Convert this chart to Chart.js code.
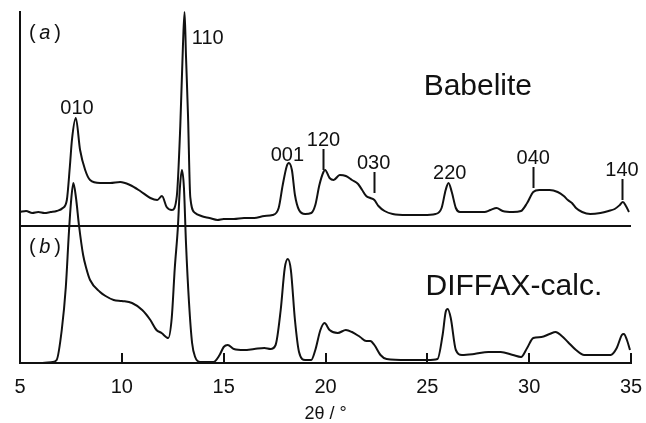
<!DOCTYPE html>
<html>
<head>
<meta charset="utf-8">
<script src="https://cdn.jsdelivr.net/npm/chart.js@4.4.1/dist/chart.umd.min.js"></script>
<style>
  html, body { margin: 0; padding: 0; background: #fff; }
  #wrap { width: 646px; height: 423px; }
</style>
</head>
<body>
<div id="wrap"><canvas id="xrd"></canvas></div>
<script>
// (a) Babelite, measured pattern: 2theta and intensity (a.u.)
const thetaA = [5.0, 5.3, 5.6, 5.9, 6.2, 6.5, 6.8, 7.1, 7.3, 7.45, 7.55, 7.74, 7.95, 8.2, 8.44, 8.93, 9.43, 9.92, 10.4, 10.9,
  11.4, 11.74, 11.97, 12.2, 12.46, 12.7, 12.87, 13.0, 13.08, 13.15, 13.25, 13.36, 13.6, 13.9, 14.3, 14.7, 15.0, 15.5, 16.0, 16.5,
  17.0, 17.4, 17.7, 17.9, 18.1, 18.2, 18.35, 18.5, 18.7, 19.0, 19.3, 19.5, 19.7, 19.9, 19.98, 20.2, 20.4, 20.7, 21.0, 21.3,
  21.6, 21.8, 22.0, 22.2, 22.4, 22.6, 22.9, 23.3, 24.0, 24.8, 25.4, 25.7, 25.9, 26.04, 26.2, 26.4, 26.6, 27.2, 27.8, 28.1,
  28.4, 28.7, 29.2, 29.6, 29.9, 30.2, 30.5, 31.0, 31.4, 31.7, 31.9, 32.1, 32.3, 32.6, 33.0, 33.5, 33.9, 34.2, 34.45, 34.6,
  34.75, 34.9];
const intensA = [14, 15, 13, 14, 13, 14, 15, 18, 26, 60, 86, 108, 76, 56, 46, 43, 43, 44, 41, 35,
  28, 26, 30, 19, 16, 30, 100, 180, 214, 170, 110, 29, 13, 10, 8, 6, 7, 7, 8, 8,
  10, 11, 18, 41, 60, 63, 56, 31, 16, 12, 13, 21, 41, 54, 56, 48, 46, 51, 50, 46,
  42, 36, 30, 28, 26, 20, 15, 12, 11, 11, 12, 18, 36, 43, 34, 18, 14, 14, 14, 16,
  18, 15, 14, 15, 23, 34, 36, 36, 34, 30, 26, 23, 18, 14, 12, 13, 15, 17, 21, 24,
  20, 14];

// (b) DIFFAX calculated pattern
const thetaB = [5.0, 6.0, 6.6, 6.8, 7.05, 7.25, 7.4, 7.5, 7.62, 7.75, 7.9, 8.1, 8.25, 8.44, 8.93, 9.2, 9.6, 10.0, 10.5, 11.0,
  11.4, 11.7, 11.95, 12.28, 12.45, 12.6, 12.75, 12.85, 12.95, 13.05, 13.15, 13.3, 13.45, 13.6, 13.85, 14.5, 14.8, 15.0, 15.2, 15.5,
  16.0, 16.5, 17.0, 17.3, 17.55, 17.8, 18.0, 18.15, 18.3, 18.5, 18.7, 19.0, 19.3, 19.5, 19.75, 19.95, 20.2, 20.6, 21.0, 21.3,
  21.7, 22.0, 22.2, 22.4, 22.7, 23.0, 24.0, 25.0, 25.5, 25.75, 25.9, 26.0, 26.15, 26.4, 26.7, 27.3, 28.0, 28.6, 29.2, 29.6,
  29.9, 30.2, 30.6, 31.0, 31.3, 31.6, 31.9, 32.3, 32.7, 33.3, 34.0, 34.3, 34.55, 34.65, 34.8, 34.95];
const intensB = [0, 0, 1, 3, 33, 76, 130, 160, 180, 165, 137, 108, 95, 83, 71, 67, 63, 62, 60, 53,
  43, 33, 30, 25, 45, 95, 135, 175, 193, 175, 120, 60, 20, 6, 1, 1, 8, 16, 18, 14,
  13, 14, 15, 14, 18, 53, 95, 104, 93, 43, 11, 3, 3, 13, 33, 40, 33, 30, 33, 31,
  26, 22, 22, 18, 8, 4, 3, 3, 4, 28, 51, 54, 45, 13, 8, 9, 11, 11, 8, 6,
  15, 25, 26, 29, 31, 27, 21, 13, 8, 8, 8, 15, 28, 29, 23, 13];

// reflection labels on pattern (a)
const peakNames = ['010', '110', '001', '120', '030', '220', '040', '140'];
const peakTheta = [7.8, 14.22, 18.13, 19.9, 22.36, 26.1, 30.2, 34.56];
const peakLabelY = [118, 188, 71, 86, 63, 53, 68, 56];
const peakTick = [false, false, false, true, true, false, true, true];

const xTicks = [5, 10, 15, 20, 25, 30, 35];
const xTitle = '2θ / °';

const FONT = '"Liberation Sans", Arial, Helvetica, sans-serif';

function toPoints(xs, ys) {
  return xs.map((x, i) => ({ x: x, y: ys[i] }));
}

// draws the reflection labels, panel captions and the axis title
const annotations = {
  id: 'annotations',
  afterDatasetsDraw(chart) {
    const ctx = chart.ctx;
    const x = chart.scales.x;
    const yA = chart.scales.yA;
    const yB = chart.scales.yB;
    ctx.save();
    ctx.fillStyle = '#111';
    ctx.strokeStyle = '#111';
    ctx.textAlign = 'center';
    ctx.textBaseline = 'middle';

    ctx.font = '20px ' + FONT;
    ctx.lineWidth = 2;
    peakNames.forEach((name, i) => {
      const px = x.getPixelForValue(peakTheta[i]);
      const py = yA.getPixelForValue(peakLabelY[i]);
      ctx.fillText(name, px, py);
      if (peakTick[i]) {
        ctx.beginPath();
        ctx.moveTo(Math.round(px) + 0.5, py + 9);
        ctx.lineTo(Math.round(px) + 0.5, py + 30);
        ctx.stroke();
      }
    });

    ctx.font = '30px ' + FONT;
    ctx.fillText('Babelite', x.getPixelForValue(27.48), yA.getPixelForValue(139));
    ctx.fillText('DIFFAX-calc.', x.getPixelForValue(29.25), yB.getPixelForValue(76));

    ctx.font = '18px ' + FONT;
    ctx.fillText(xTitle, x.getPixelForValue(20), chart.chartArea.bottom + 51);

    // "(a)" / "(b)" with italic letter
    const tag = (letter, yPix) => {
      let px = x.getPixelForValue(5.44);
      ctx.textAlign = 'left';
      ctx.font = '20px ' + FONT;
      ctx.fillText('(', px, yPix);
      px += ctx.measureText('( ').width - 2;
      ctx.font = 'italic 20px ' + FONT;
      ctx.fillText(letter, px, yPix);
      px += ctx.measureText(letter).width + 4;
      ctx.font = '20px ' + FONT;
      ctx.fillText(')', px, yPix);
    };
    tag('a', yA.getPixelForValue(193));
    tag('b', yB.getPixelForValue(116));
    ctx.restore();
  }
};

new Chart(document.getElementById('xrd'), {
  type: 'line',
  data: {
    datasets: [
      {
        label: 'Babelite',
        data: toPoints(thetaA, intensA),
        yAxisID: 'yA',
        borderColor: '#111',
        borderWidth: 2,
        pointRadius: 0,
        cubicInterpolationMode: 'monotone',
        clip: false
      },
      {
        label: 'DIFFAX-calc.',
        data: toPoints(thetaB, intensB),
        yAxisID: 'yB',
        borderColor: '#111',
        borderWidth: 2,
        pointRadius: 0,
        cubicInterpolationMode: 'monotone',
        clip: false
      }
    ]
  },
  options: {
    responsive: true,
    maintainAspectRatio: false,
    animation: false,
    layout: { padding: { left: 20, right: 15, top: 12, bottom: 2 } },
    plugins: {
      legend: { display: false },
      tooltip: { enabled: false }
    },
    scales: {
      x: {
        type: 'linear',
        min: 5,
        max: 35,
        afterBuildTicks: axis => { axis.ticks = xTicks.map(v => ({ value: v })); },
        border: { display: true, color: '#111', width: 2 },
        grid: { drawOnChartArea: false, drawTicks: true, tickLength: -10, color: '#111', lineWidth: 2 },
        // tall line height pushes the labels below the axis without widening the side padding
        ticks: { color: '#111', font: { family: FONT, size: 20, lineHeight: '68px' }, padding: 0, maxRotation: 0 }
      },
      yB: {
        type: 'linear',
        position: 'left',
        stack: 'panels',
        stackWeight: 137,
        min: 0,
        max: 137,
        border: { display: true, color: '#111', width: 2 },
        grid: { display: false, drawTicks: false },
        ticks: { display: false, padding: 0 }
      },
      yA: {
        type: 'linear',
        position: 'left',
        stack: 'panels',
        stackWeight: 214,
        min: 0,
        max: 214,
        afterBuildTicks: axis => { axis.ticks = [{ value: 0 }]; },
        border: { display: true, color: '#111', width: 2 },
        grid: { drawTicks: false, color: '#111', lineWidth: 2 },
        ticks: { display: false, padding: 0 }
      }
    }
  },
  plugins: [annotations]
});
</script>
</body>
</html>
